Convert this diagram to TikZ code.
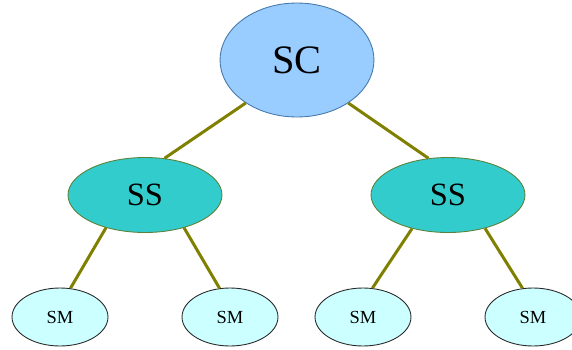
\documentclass[tikz,border=0pt]{standalone}
\usepackage{fontspec}
\setmainfont{Liberation Serif}
\usetikzlibrary{shapes.geometric}
\definecolor{scfill}{RGB}{153,204,255}
\definecolor{scdraw}{RGB}{70,120,170}
\definecolor{ssfill}{RGB}{51,204,204}
\definecolor{ssdraw}{RGB}{90,130,60}
\definecolor{smfill}{RGB}{204,255,255}
\definecolor{smdraw}{RGB}{40,40,40}
\definecolor{linkcol}{RGB}{128,128,0}
\tikzset{
  base/.style={ellipse, inner sep=0pt, line width=0.5pt},
  scnode/.style={base, fill=scfill, draw=scdraw, minimum width=3.08cm, minimum height=2.28cm, font=\fontsize{23}{26}\selectfont},
  ssnode/.style={base, fill=ssfill, draw=ssdraw, minimum width=3.08cm, minimum height=1.5cm, font=\fontsize{18.5}{21}\selectfont},
  smnode/.style={base, fill=smfill, draw=smdraw, minimum width=1.92cm, minimum height=1.16cm, font=\fontsize{10.5}{12}\selectfont},
  link/.style={draw=linkcol, line width=1.7pt}
}
\begin{document}
\begin{tikzpicture}[x=0.02cm, y=-0.02cm]
\useasboundingbox (0,0) rectangle (572,349);
\clip (0,0) rectangle (572,349);
\fill[white] (0,0) rectangle (572,349);
\node[scnode] (sc) at (297,60) {SC};
\node[ssnode] (ssl) at (145,195) {SS};
\node[ssnode] (ssr) at (448,195) {SS};
\node[smnode] (sm1) at (60,317) {SM};
\node[smnode] (sm2) at (230,317) {SM};
\node[smnode] (sm3) at (363,317) {SM};
\node[smnode] (sm4) at (533,317) {SM};
\draw[link] (sc.220) -- (ssl.62);
\draw[link] (sc.320) -- (ssr.118);
\draw[link] (ssl.220) -- (sm1.70);
\draw[link] (ssl.320) -- (sm2.110);
\draw[link] (ssr.223) -- (sm3.72);
\draw[link] (ssr.318) -- (sm4.110);
\end{tikzpicture}
\end{document}
